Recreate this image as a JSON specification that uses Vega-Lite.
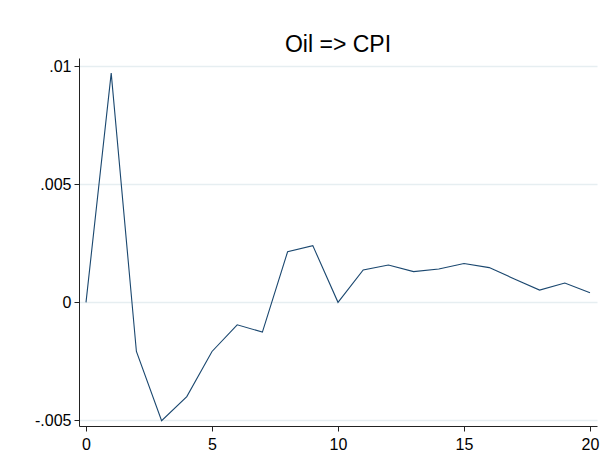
{
  "$schema": "https://vega.github.io/schema/vega-lite/v6.json",
  "width": 518,
  "height": 368,
  "autosize": {"type": "none"},
  "padding": {"left": 79, "top": 58, "right": 19, "bottom": 34},
  "background": "white",
  "title": {
    "text": "Oil => CPI",
    "font": "Liberation Sans",
    "fontSize": 23,
    "fontWeight": "normal",
    "color": "#000000",
    "anchor": "middle",
    "baseline": "alphabetic",
    "offset": -17
  },
  "config": {
    "view": {"stroke": null},
    "axis": {
      "labelFont": "Liberation Sans",
      "labelFontSize": 16,
      "labelColor": "#000000",
      "domainColor": "#222222",
      "domainWidth": 1,
      "tickColor": "#222222",
      "tickWidth": 1,
      "tickSize": 5,
      "labelPadding": 3,
      "title": null
    }
  },
  "data": {
    "values": [
      {"step": 0, "irf": 0},
      {"step": 1, "irf": 0.0097},
      {"step": 2, "irf": -0.00208},
      {"step": 3, "irf": -0.00501},
      {"step": 4, "irf": -0.00399},
      {"step": 5, "irf": -0.00208},
      {"step": 6, "irf": -0.00095},
      {"step": 7, "irf": -0.00126},
      {"step": 8, "irf": 0.00214},
      {"step": 9, "irf": 0.0024},
      {"step": 10, "irf": 0},
      {"step": 11, "irf": 0.00137},
      {"step": 12, "irf": 0.00158},
      {"step": 13, "irf": 0.0013},
      {"step": 14, "irf": 0.00141},
      {"step": 15, "irf": 0.00164},
      {"step": 16, "irf": 0.00147},
      {"step": 17, "irf": 0.00099},
      {"step": 18, "irf": 0.00052},
      {"step": 19, "irf": 0.00082},
      {"step": 20, "irf": 0.00041}
    ]
  },
  "mark": {"type": "line", "color": "#1a476f", "strokeWidth": 1.1, "clip": false},
  "encoding": {
    "x": {
      "field": "step",
      "type": "quantitative",
      "scale": {"domain": [-0.278, 20.278], "nice": false, "zero": false},
      "axis": {
        "values": [0, 5, 10, 15, 20],
        "grid": false,
        "labelPadding": 5
      }
    },
    "y": {
      "field": "irf",
      "type": "quantitative",
      "scale": {"domain": [-0.005233, 0.010339], "nice": false, "zero": false},
      "axis": {
        "values": [-0.005, 0, 0.005, 0.01],
        "grid": true,
        "gridColor": "#e6eef1",
        "gridWidth": 1.5,
        "labelExpr": "datum.value == 0 ? '0' : (datum.value < 0 ? '-' : '') + slice(format(abs(datum.value), '~g'), 1)"
      }
    }
  }
}
